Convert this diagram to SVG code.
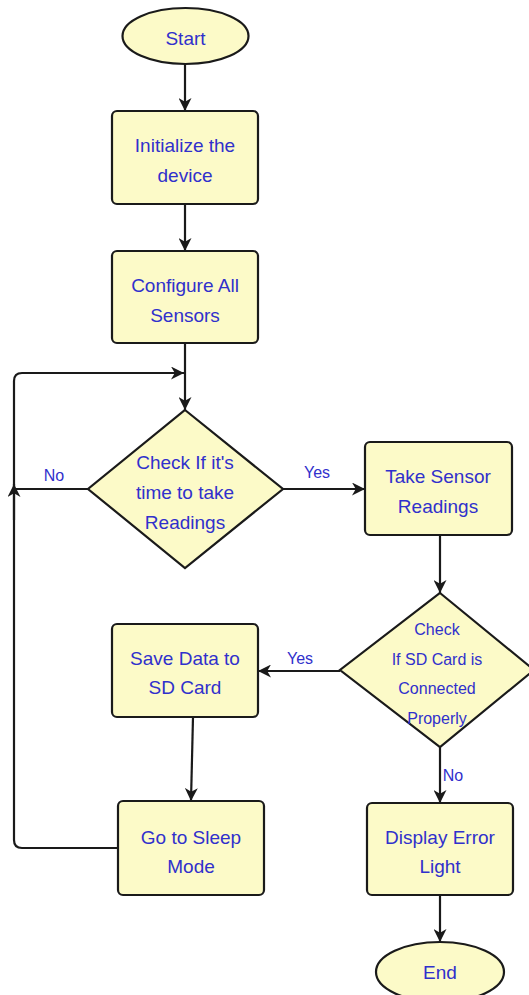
<svg xmlns="http://www.w3.org/2000/svg" width="529" height="995" viewBox="0 0 529 995">
<style>
.shape{fill:#fcfac8;stroke:#1a1a1a;stroke-width:2.2}
.t{font-family:"Liberation Sans",Arial,sans-serif;font-size:19px;fill:#3030cc;text-anchor:middle;dominant-baseline:central}
.lbl{font-family:"Liberation Sans",Arial,sans-serif;font-size:16px;fill:#3030cc;text-anchor:middle;dominant-baseline:central}
.c{fill:none;stroke:#1a1a1a;stroke-width:2.2}
</style>
<defs>
<marker id="ah" viewBox="0 0 12 12" refX="12" refY="6" markerWidth="13" markerHeight="13" markerUnits="userSpaceOnUse" orient="auto">
<path d="M0,0 L12,6 L0,12 L3.5,6 z" fill="#1a1a1a"/>
</marker>
</defs>
<rect width="529" height="995" fill="#ffffff"/>
<g id="connectors">
<path class="c" d="M185,64 L185,111" marker-end="url(#ah)"/>
<path class="c" d="M185,204 L185,251" marker-end="url(#ah)"/>
<path class="c" d="M185,343 L185,410" marker-end="url(#ah)"/>
<path class="c" d="M118,848 L22,848 Q14,848 14,840 L14,381 Q14,373 22,373 L184,373" marker-end="url(#ah)"/>
<path class="c" d="M88,489 L14,489"/>
<path class="c" d="M14,520 L14,484" marker-end="url(#ah)"/>
<path class="c" d="M283,489 L365,489" marker-end="url(#ah)"/>
<path class="c" d="M440,535 L440,593" marker-end="url(#ah)"/>
<path class="c" d="M340,671 L258,671" marker-end="url(#ah)"/>
<path class="c" d="M193,717 L191,801" marker-end="url(#ah)"/>
<path class="c" d="M440,747 L440,803" marker-end="url(#ah)"/>
<path class="c" d="M440,895 L440,942" marker-end="url(#ah)"/>
<text class="lbl" x="54" y="475">No</text>
<text class="lbl" x="317" y="472">Yes</text>
<text class="lbl" x="300" y="658">Yes</text>
<text class="lbl" x="453" y="775">No</text>
</g>
<g id="start">
<ellipse class="shape" cx="185.5" cy="36" rx="63" ry="28"/>
<text class="t" x="185.5" y="38">Start</text>
</g>
<g id="init">
<rect class="shape" x="112" y="111" width="146" height="93" rx="5"/>
<text class="t" x="185" y="145">Initialize the</text>
<text class="t" x="185" y="175">device</text>
</g>
<g id="config">
<rect class="shape" x="112" y="251" width="146" height="92" rx="5"/>
<text class="t" x="185" y="285">Configure All</text>
<text class="t" x="185" y="315">Sensors</text>
</g>
<g id="check-time">
<polygon class="shape" points="185,410 283,489 185,568 88,489"/>
<text class="t" x="185" y="462">Check If it's</text>
<text class="t" x="185" y="492">time to take</text>
<text class="t" x="185" y="522">Readings</text>
</g>
<g id="take-readings">
<rect class="shape" x="365" y="442" width="147" height="93" rx="5"/>
<text class="t" x="438" y="476">Take Sensor</text>
<text class="t" x="438" y="506">Readings</text>
</g>
<g id="check-sd">
<polygon class="shape" points="440,593 534,670 440,747 340,670"/>
<text class="lbl" x="437" y="629">Check</text>
<text class="lbl" x="437" y="659">If SD Card is</text>
<text class="lbl" x="437" y="688">Connected</text>
<text class="lbl" x="437" y="718">Properly</text>
</g>
<g id="save">
<rect class="shape" x="112" y="624" width="146" height="93" rx="5"/>
<text class="t" x="185" y="658">Save Data to</text>
<text class="t" x="185" y="687">SD Card</text>
</g>
<g id="sleep">
<rect class="shape" x="118" y="801" width="146" height="94" rx="5"/>
<text class="t" x="191" y="837">Go to Sleep</text>
<text class="t" x="191" y="866">Mode</text>
</g>
<g id="error">
<rect class="shape" x="367" y="803" width="146" height="92" rx="5"/>
<text class="t" x="440" y="837">Display Error</text>
<text class="t" x="440" y="866">Light</text>
</g>
<g id="end">
<ellipse class="shape" cx="440" cy="972" rx="64" ry="30"/>
<text class="t" x="440" y="972">End</text>
</g>
</svg>
